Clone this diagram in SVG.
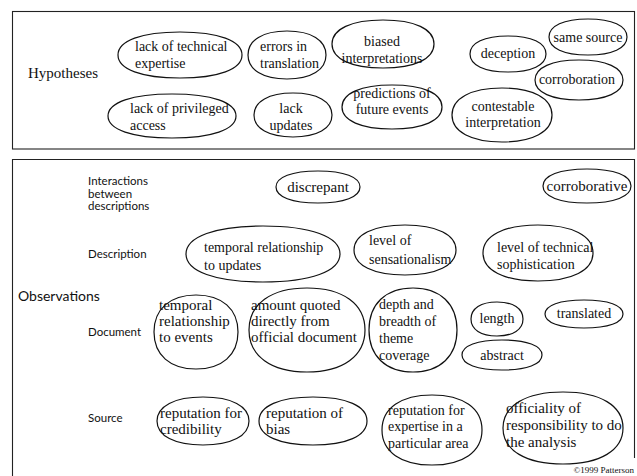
<svg xmlns="http://www.w3.org/2000/svg" width="637" height="476" viewBox="0 0 637 476">
<style>
.bg{fill:#fff}
.box{fill:none;stroke:#222;stroke-width:1.1}
.n path{fill:none;stroke:#111;stroke-width:1.2}
.t{font-family:"Liberation Serif","Times New Roman",serif;font-size:14px;fill:#111}
.m{font-size:15px}
.c{text-anchor:middle}
.lab{font-family:Lato,"Noto Sans",sans-serif;font-size:11.5px;fill:#111}
.big{font-family:Lato,"Noto Sans",sans-serif;font-size:14px;fill:#111}
.hyp{font-family:"Liberation Serif","Times New Roman",serif;font-size:15px;fill:#111}
.copy{font-family:"Liberation Serif","Times New Roman",serif;font-size:9px;fill:#111;text-anchor:end}
</style>
<rect class="bg" x="0" y="0" width="637" height="476"/>
<g id="frames">
<rect class="box" x="12.5" y="11.5" width="622" height="137.5"/>
<path class="box" d="M12.5 480 V159.5 H634.5 V458"/>
</g>
<g id="labels">
<text class="hyp" x="28" y="78">Hypotheses</text>
<text class="lab" x="88" y="185">Interactions</text>
<text class="lab" x="88" y="197.5">between</text>
<text class="lab" x="88" y="210">descriptions</text>
<text class="lab" x="88" y="258">Description</text>
<text class="big" x="18" y="301">Observations</text>
<text class="lab" x="88" y="336">Document</text>
<text class="lab" x="88" y="422">Source</text>
<text class="copy" x="634" y="473">©1999 Patterson</text>
</g>
<g id="connectors"></g>
<g id="h1" class="n"><path d="M118,55 C118,40.7 141.6,32 180,32 C218.4,32 242,40.7 242,55 C242,69.3 218.4,78 180,78 C141.6,78 118,69.3 118,55Z"/><text class="t" x="135" y="51">lack of technical</text><text class="t" x="135" y="68">expertise</text></g>
<g id="h2" class="n"><path d="M248,55 C248,40.1 262.8,31 287,31 C311.2,31 326,40.1 326,55 C326,69.9 311.2,79 287,79 C262.8,79 248,69.9 248,55Z"/><text class="t" x="260" y="51">errors in</text><text class="t" x="260" y="68">translation</text></g>
<g id="h3" class="n"><path d="M332,44 C332,29.1 351.4,20 383,20 C414.6,20 434,29.1 434,44 C434,58.9 414.6,68 383,68 C351.4,68 332,58.9 332,44Z"/><text class="t c" x="382" y="46">biased</text><text class="t c" x="382" y="63">interpretations</text></g>
<g id="h4" class="n"><path d="M470,54 C470,42.8 484.4,36 508,36 C531.6,36 546,42.8 546,54 C546,65.2 531.6,72 508,72 C484.4,72 470,65.2 470,54Z"/><text class="t c" x="508" y="58">deception</text></g>
<g id="h5" class="n"><path d="M549,37 C549,25.8 563.8,19 588,19 C612.2,19 627,25.8 627,37 C627,48.2 612.2,55 588,55 C563.8,55 549,48.2 549,37Z"/><text class="t c" x="588" y="42">same source</text></g>
<g id="h6" class="n"><path d="M535,80 C535,67.6 551.7,60 579,60 C606.3,60 623,67.6 623,80 C623,92.4 606.3,100 579,100 C551.7,100 535,92.4 535,80Z"/><text class="t c" x="577" y="84">corroboration</text></g>
<g id="h7" class="n"><path d="M108,116 C108,102.4 132.3,94 172,94 C211.7,94 236,102.4 236,116 C236,129.6 211.7,138 172,138 C132.3,138 108,129.6 108,116Z"/><text class="t" x="130" y="113">lack of privileged</text><text class="t" x="130" y="130">access</text></g>
<g id="h8" class="n"><path d="M254,115 C254,101.4 268.8,93 293,93 C317.2,93 332,101.4 332,115 C332,128.6 317.2,137 293,137 C268.8,137 254,128.6 254,115Z"/><text class="t c" x="291" y="113">lack</text><text class="t c" x="291" y="130">updates</text></g>
<g id="h9" class="n"><path d="M342,107 C342,93.4 361,85 392,85 C423,85 442,93.4 442,107 C442,120.6 423,129 392,129 C361,129 342,120.6 342,107Z"/><text class="t c" x="392" y="98">predictions of</text><text class="t c" x="392" y="114">future events</text></g>
<g id="h10" class="n"><path d="M452,115 C452,98.3 471,88 502,88 C533,88 552,98.3 552,115 C552,131.7 533,142 502,142 C471,142 452,131.7 452,115Z"/><text class="t c" x="503" y="111">contestable</text><text class="t c" x="503" y="127">interpretation</text></g>
<g id="o1" class="n"><path d="M276,187 C276,177.1 292,171 318,171 C344,171 360,177.1 360,187 C360,196.9 344,203 318,203 C292,203 276,196.9 276,187Z"/><text class="t m c" x="318" y="192">discrepant</text></g>
<g id="o2" class="n"><path d="M543,186 C543,175.5 559.7,169 587,169 C614.3,169 631,175.5 631,186 C631,196.5 614.3,203 587,203 C559.7,203 543,196.5 543,186Z"/><text class="t m c" x="587" y="191">corroborative</text></g>
<g id="o3" class="n"><path d="M186,254 C186,236.6 215.3,226 263,226 C310.7,226 340,236.6 340,254 C340,271.4 310.7,282 263,282 C215.3,282 186,271.4 186,254Z"/><text class="t" x="204" y="252">temporal relationship</text><text class="t" x="204" y="270">to updates</text></g>
<g id="o4" class="n"><path d="M354,250 C354,234.5 373.4,225 405,225 C436.6,225 456,234.5 456,250 C456,265.5 436.6,275 405,275 C373.4,275 354,265.5 354,250Z"/><text class="t" x="369" y="245">level of</text><text class="t" x="369" y="264">sensationalism</text></g>
<g id="o5" class="n"><path d="M483,253 C483,235.6 503.9,225 538,225 C572.1,225 593,235.6 593,253 C593,270.4 572.1,281 538,281 C503.9,281 483,270.4 483,253Z"/><text class="t" x="497" y="252">level of technical</text><text class="t" x="497" y="269">sophistication</text></g>
<g id="o6" class="n"><path d="M154,332 C154,309.1 170,295 196,295 C222,295 238,309.1 238,332 C238,354.9 222,369 196,369 C170,369 154,354.9 154,332Z"/><text class="t m" x="159" y="310">temporal</text><text class="t m" x="159" y="326">relationship</text><text class="t m" x="159" y="342">to events</text></g>
<g id="o7" class="n"><path d="M249,330 C249,304 271,288 307,288 C343,288 365,304 365,330 C365,356 343,372 307,372 C271,372 249,356 249,330Z"/><text class="t m" x="251" y="310">amount quoted</text><text class="t m" x="251" y="326">directly from</text><text class="t m" x="251" y="342">official document</text></g>
<g id="o8" class="n"><path d="M369,330 C369,304 385.7,288 413,288 C440.3,288 457,304 457,330 C457,356 440.3,372 413,372 C385.7,372 369,356 369,330Z"/><text class="t" x="379" y="309">depth and</text><text class="t" x="379" y="326">breadth of</text><text class="t" x="379" y="343">theme</text><text class="t" x="379" y="360">coverage</text></g>
<g id="o9" class="n"><path d="M471,319 C471,308.5 480.9,302 497,302 C513.1,302 523,308.5 523,319 C523,329.5 513.1,336 497,336 C480.9,336 471,329.5 471,319Z"/><text class="t c" x="497" y="323">length</text></g>
<g id="o10" class="n"><path d="M545,314 C545,305.3 559.8,300 584,300 C608.2,300 623,305.3 623,314 C623,322.7 608.2,328 584,328 C559.8,328 545,322.7 545,314Z"/><text class="t c" x="584" y="318">translated</text></g>
<g id="o11" class="n"><path d="M462,355 C462,345.7 477.2,340 502,340 C526.8,340 542,345.7 542,355 C542,364.3 526.8,370 502,370 C477.2,370 462,364.3 462,355Z"/><text class="t c" x="502" y="360">abstract</text></g>
<g id="o12" class="n"><path d="M157,421 C157,406.1 174.5,397 203,397 C231.5,397 249,406.1 249,421 C249,435.9 231.5,445 203,445 C174.5,445 157,435.9 157,421Z"/><text class="t m" x="160" y="418">reputation for</text><text class="t m" x="160" y="434">credibility</text></g>
<g id="o13" class="n"><path d="M259,421 C259,406.1 279.5,397 313,397 C346.5,397 367,406.1 367,421 C367,435.9 346.5,445 313,445 C279.5,445 259,435.9 259,421Z"/><text class="t m" x="266" y="418">reputation of</text><text class="t m" x="266" y="434">bias</text></g>
<g id="o14" class="n"><path d="M382,430 C382,408.3 401,395 432,395 C463,395 482,408.3 482,430 C482,451.7 463,465 432,465 C401,465 382,451.7 382,430Z"/><text class="t" x="388" y="415">reputation for</text><text class="t" x="388" y="431">expertise in a</text><text class="t" x="388" y="448">particular area</text></g>
<g id="o15" class="n"><path d="M503,428 C503,405.7 525.8,392 563,392 C600.2,392 623,405.7 623,428 C623,450.3 600.2,464 563,464 C525.8,464 503,450.3 503,428Z"/><text class="t m" x="506" y="413">officiality of</text><text class="t m" x="506" y="430">responsibility to do</text><text class="t m" x="506" y="447">the analysis</text></g>
</svg>
